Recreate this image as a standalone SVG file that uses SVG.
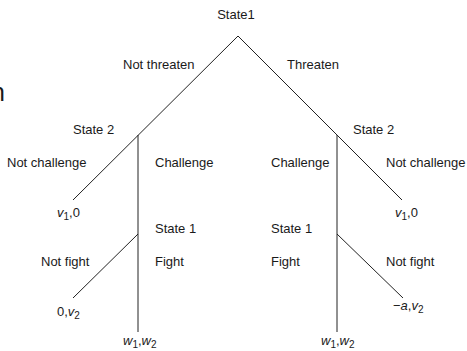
<svg xmlns="http://www.w3.org/2000/svg" width="467" height="351" viewBox="0 0 467 351">
<style>
text{font-family:"Liberation Sans",Arial,sans-serif;font-size:13px;fill:#1a1a1a}
.i{font-style:italic}
.s{font-size:10px}
.e{stroke:#222;stroke-width:1;fill:none}
</style>
<rect width="467" height="351" fill="#fff"/>
<text x="5" y="101" text-anchor="end" style="font-size:25px">n</text>
<g id="connectors">
<line class="e" x1="238" y1="36" x2="73" y2="200"/>
<line class="e" x1="238" y1="36" x2="402" y2="200"/>
<line class="e" x1="138" y1="135" x2="138" y2="332"/>
<line class="e" x1="337" y1="135" x2="337" y2="332"/>
<line class="e" x1="138" y1="234" x2="73" y2="298"/>
<line class="e" x1="337" y1="234" x2="403" y2="298"/>
</g>
<g id="root"><text x="236" y="19" text-anchor="middle">State1</text></g>
<g id="labels-top">
<text x="123" y="69">Not threaten</text>
<text x="287" y="69">Threaten</text>
</g>
<g id="state2-left">
<text x="73" y="134">State 2</text>
<text x="7" y="167">Not challenge</text>
<text x="155" y="167">Challenge</text>
</g>
<g id="state2-right">
<text x="353" y="134">State 2</text>
<text x="271" y="167">Challenge</text>
<text x="386" y="167">Not challenge</text>
</g>
<g id="payoff-l1"><text x="57" y="217"><tspan class="i">v</tspan><tspan class="s" dy="3">1</tspan><tspan dy="-3">,0</tspan></text></g>
<g id="payoff-r1"><text x="395" y="217"><tspan class="i">v</tspan><tspan class="s" dy="3">1</tspan><tspan dy="-3">,0</tspan></text></g>
<g id="state1-left">
<text x="155" y="233">State 1</text>
<text x="41" y="266">Not fight</text>
<text x="155" y="266">Fight</text>
</g>
<g id="state1-right">
<text x="271" y="233">State 1</text>
<text x="271" y="266">Fight</text>
<text x="386" y="266">Not fight</text>
</g>
<g id="payoff-l2"><text x="57" y="316">0,<tspan class="i">v</tspan><tspan class="s" dy="3">2</tspan></text></g>
<g id="payoff-r2"><text x="393" y="310">−<tspan class="i">a</tspan>,<tspan class="i">v</tspan><tspan class="s" dy="3">2</tspan></text></g>
<g id="payoff-l3"><text x="123" y="345"><tspan class="i">w</tspan><tspan class="s" dy="3">1</tspan><tspan dy="-3">,</tspan><tspan class="i">w</tspan><tspan class="s" dy="3">2</tspan></text></g>
<g id="payoff-r3"><text x="321" y="345"><tspan class="i">w</tspan><tspan class="s" dy="3">1</tspan><tspan dy="-3">,</tspan><tspan class="i">w</tspan><tspan class="s" dy="3">2</tspan></text></g>
</svg>
